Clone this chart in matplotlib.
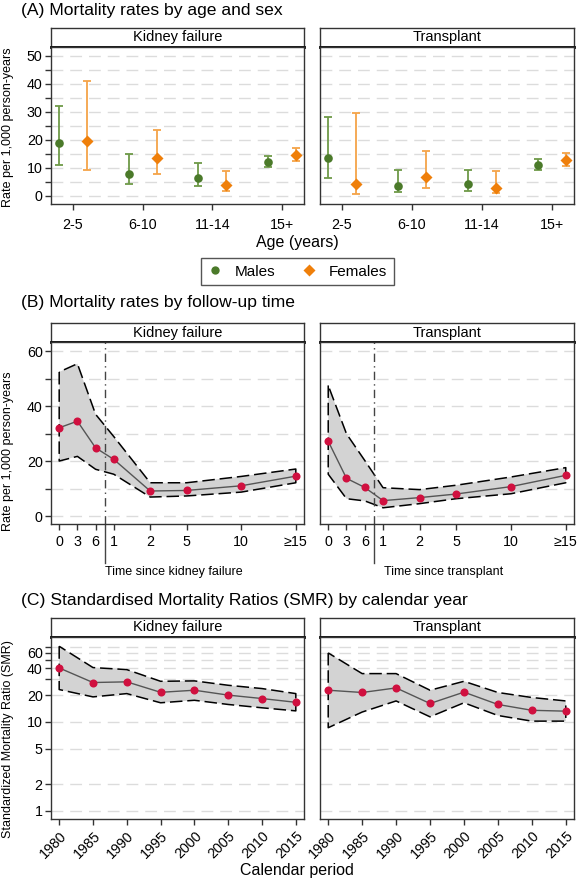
import matplotlib.pyplot as plt
import numpy as np
from matplotlib.lines import Line2D
from matplotlib.ticker import FixedLocator, NullFormatter, FixedFormatter

plt.rcParams['font.family'] = ['Liberation Sans', 'DejaVu Sans']
plt.rcParams['lines.scale_dashes'] = False

# ---- data ----
age_groups = ['2-5', '6-10', '11-14', '15+']

kf_male = [18.8, 7.9, 6.5, 12.0]
kf_male_lo = [11.1, 4.4, 3.7, 10.4]
kf_male_hi = [32.3, 15.0, 11.8, 14.2]
kf_female = [19.6, 13.7, 3.8, 14.6]
kf_female_lo = [9.3, 7.9, 1.8, 12.4]
kf_female_hi = [41.2, 23.5, 9.0, 17.3]

tx_male = [13.4, 3.6, 4.3, 11.0]
tx_male_lo = [6.3, 1.3, 1.9, 9.2]
tx_male_hi = [28.3, 9.2, 9.4, 13.1]
tx_female = [4.2, 6.7, 3.0, 12.9]
tx_female_lo = [0.7, 2.9, 1.1, 10.7]
tx_female_hi = [29.8, 16.0, 9.0, 15.5]

fu_labels = ['0', '3', '6', '1', '2', '5', '10', '\u226515']
fu_x = [0, 1, 2, 3, 5, 7, 10, 13]   # category position on the time axis
fu_split = 2.5                       # months | years boundary

kf_rate = [32.1, 34.5, 24.8, 20.6, 9.1, 9.3, 11.0, 14.5]
kf_rate_hi = [52.4, 55.4, 37.0, 28.9, 12.1, 12.1, 14.4, 17.1]
kf_rate_lo = [20.0, 21.7, 17.0, 15.2, 6.9, 7.3, 8.7, 12.1]
tx_rate = [27.2, 13.7, 10.4, 5.6, 6.7, 8.0, 10.7, 14.8]
tx_rate_hi = [47.5, 29.9, 20.2, 10.3, 9.6, 11.2, 14.2, 17.6]
tx_rate_lo = [15.2, 6.3, 5.5, 3.0, 4.5, 6.3, 8.1, 12.1]

years = [1980, 1985, 1990, 1995, 2000, 2005, 2010, 2015]
kf_smr = [40.4, 27.7, 28.2, 21.5, 22.7, 20.0, 18.3, 16.6]
kf_smr_hi = [70.8, 40.8, 38.7, 28.6, 28.9, 25.8, 23.7, 20.8]
kf_smr_lo = [23.1, 19.1, 20.8, 16.4, 17.5, 15.7, 14.4, 13.3]
tx_smr = [22.7, 21.4, 24.1, 16.1, 21.6, 15.7, 13.5, 13.2]
tx_smr_hi = [59.6, 34.9, 34.9, 22.7, 28.6, 21.4, 18.8, 17.2]
tx_smr_lo = [8.6, 12.9, 17.2, 11.4, 16.4, 11.8, 10.2, 10.2]

# ---- layout helpers (pixel boxes) ----
W, H = 578, 885
fig = plt.figure(figsize=(W / 100, H / 100), dpi=100)


def box(x0, y0, x1, y1):
    return [x0 / W, 1 - y1 / H, (x1 - x0) / W, (y1 - y0) / H]


GREEN, GREEN_BAR = '#4b7a2a', '#6e9a48'
ORANGE, ORANGE_BAR = '#ef7f0a', '#f4a449'
RED = '#d0103f'
GRID = '#dcdcdc'
FRAME = '#333333'
cols = [(51, 304), (320, 574)]


def strip(x0, x1, y0, y1, label):
    s = fig.add_axes(box(x0, y0, x1, y1))
    s.set_xticks([])
    s.set_yticks([])
    for sp in s.spines.values():
        sp.set_color(FRAME)
        sp.set_linewidth(1)
    s.spines['bottom'].set_linewidth(2)
    s.spines['bottom'].set_color('black')
    s.text(0.5, 0.5, label, ha='center', va='center', fontsize=10.5,
           transform=s.transAxes)


def style(ax, left):
    ax.set_axisbelow(True)
    for sp in ax.spines.values():
        sp.set_color(FRAME)
        sp.set_linewidth(1)
    ax.tick_params(which='both', direction='out', length=4, width=1,
                   color=FRAME, labelsize=10.3, pad=2)
    ax.grid(axis='y', which='both', color=GRID, linestyle=(0, (8.5, 5)), lw=1)
    if not left:
        ax.tick_params(axis='y', which='both', left=False, labelleft=False)


def title(y, txt):
    fig.text(21 / W, 1 - y / H, txt, ha='left', va='center', fontsize=12.6)


# ---- (A) ----
title(10, '(A) Mortality rates by age and sex')
panels_a = [
    ('Kidney failure', kf_male, kf_male_lo, kf_male_hi, kf_female, kf_female_lo, kf_female_hi),
    ('Transplant', tx_male, tx_male_lo, tx_male_hi, tx_female, tx_female_lo, tx_female_hi),
]
xa = np.arange(len(age_groups))
for i, (name, m, mlo, mhi, f, flo, fhi) in enumerate(panels_a):
    x0, x1 = cols[i]
    strip(x0, x1, 28, 47, name)
    ax = fig.add_axes(box(x0, 47, x1, 204))
    m, mlo, mhi = np.array(m), np.array(mlo), np.array(mhi)
    f, flo, fhi = np.array(f), np.array(flo), np.array(fhi)
    ax.errorbar(xa - 0.2, m, yerr=[m - mlo, mhi - m], fmt='none', ecolor=GREEN_BAR,
                elinewidth=1.3, capsize=2.8, capthick=1.3)
    ax.plot(xa - 0.2, m, 'o', color=GREEN, ms=6.2, mec='none')
    ax.errorbar(xa + 0.2, f, yerr=[f - flo, fhi - f], fmt='none', ecolor=ORANGE_BAR,
                elinewidth=1.3, capsize=2.8, capthick=1.3)
    ax.plot(xa + 0.2, f, 'D', color=ORANGE, ms=6, mec='none')
    ax.set_xlim(-0.31, 3.31)
    ax.set_ylim(-2.86, 53.2)
    ax.set_xticks(xa)
    ax.set_xticklabels(age_groups)
    ax.yaxis.set_major_locator(FixedLocator([0, 10, 20, 30, 40, 50]))
    ax.yaxis.set_minor_locator(FixedLocator([5, 15, 25, 35, 45]))
    style(ax, i == 0)
    ax.tick_params(axis='x', pad=6)

fig.text(8 / W, 1 - 127 / H, 'Rate per 1,000 person-years', rotation=90,
         ha='center', va='center', fontsize=9)
fig.text(297 / W, 1 - 243 / H, 'Age (years)', ha='center', va='center', fontsize=11.5)

handles = [Line2D([], [], marker='o', color=GREEN, ls='none', ms=6, mec='none'),
           Line2D([], [], marker='D', color=ORANGE, ls='none', ms=5.8, mec='none')]
fig.legend(handles, ['Males', 'Females'], loc='center', ncol=2,
           bbox_to_anchor=(297.5 / W, 1 - 271.5 / H), frameon=True, fancybox=False,
           edgecolor='#555555', fontsize=11, handlelength=1.0, handletextpad=0.8,
           columnspacing=1.7, borderpad=0.45, framealpha=1)

# ---- (B) ----
title(303, '(B) Mortality rates by follow-up time')
panels_b = [
    ('Kidney failure', kf_rate, kf_rate_lo, kf_rate_hi, 'Time since kidney failure', 105),
    ('Transplant', tx_rate, tx_rate_lo, tx_rate_hi, 'Time since transplant', 384),
]
for i, (name, r, lo, hi, xlab, xlab_px) in enumerate(panels_b):
    x0, x1 = cols[i]
    strip(x0, x1, 323, 342, name)
    ax = fig.add_axes(box(x0, 342, x1, 524))
    ax.fill_between(fu_x, lo, hi, facecolor='#d3d3d3', edgecolor='black',
                    linestyle=(0, (9, 3.5)), lw=1.1, zorder=1)
    ax.plot(fu_x, r, '-', color='#555555', lw=1, zorder=2)
    ax.plot(fu_x, r, 'o', color=RED, ms=5.8, mec='none', zorder=3)
    ax.axvline(fu_split, color='#444444', lw=1, linestyle=(0, (6, 3, 1, 3)), zorder=2)
    ax.plot([fu_split, fu_split], [0, -0.214], color='#444444', lw=1,
            transform=ax.get_xaxis_transform(), clip_on=False)
    ax.set_xlim(-0.45, 13.45)
    ax.set_ylim(-2.9, 63.3)
    ax.set_xticks(fu_x)
    ax.set_xticklabels(fu_labels)
    ax.yaxis.set_major_locator(FixedLocator([0, 20, 40, 60]))
    ax.yaxis.set_minor_locator(FixedLocator([10, 30, 50]))
    style(ax, i == 0)
    ax.tick_params(axis='x', pad=4)
    fig.text(xlab_px / W, 1 - 572 / H, xlab, ha='left', va='center', fontsize=9)

fig.text(8 / W, 1 - 451 / H, 'Rate per 1,000 person-years', rotation=90,
         ha='center', va='center', fontsize=9)

# ---- (C) ----
title(600, '(C) Standardised Mortality Ratios (SMR) by calendar year')
panels_c = [
    ('Kidney failure', kf_smr, kf_smr_lo, kf_smr_hi),
    ('Transplant', tx_smr, tx_smr_lo, tx_smr_hi),
]
for i, (name, r, lo, hi) in enumerate(panels_c):
    x0, x1 = cols[i]
    strip(x0, x1, 618, 637, name)
    ax = fig.add_axes(box(x0, 637, x1, 819))
    ax.set_yscale('log')
    ax.fill_between(years, lo, hi, facecolor='#d3d3d3', edgecolor='black',
                    linestyle=(0, (9, 3.5)), lw=1.1, zorder=1)
    ax.plot(years, r, '-', color='#555555', lw=1, zorder=2)
    ax.plot(years, r, 'o', color=RED, ms=5.8, mec='none', zorder=3)
    ax.set_xlim(1978.79, 2016.21)
    ax.set_ylim(0.81, 90)
    ax.set_xticks(years)
    ax.set_xticklabels([str(y) for y in years], rotation=45, ha='right',
                       rotation_mode='anchor')
    ax.yaxis.set_major_locator(FixedLocator([1, 2, 5, 10, 20, 40, 60]))
    ax.yaxis.set_major_formatter(FixedFormatter(['1', '2', '5', '10', '20', '40', '60']))
    ax.yaxis.set_minor_locator(FixedLocator([30, 50, 70]))
    ax.yaxis.set_minor_formatter(NullFormatter())
    style(ax, i == 0)
    ax.tick_params(axis='x', pad=3)

fig.text(8 / W, 1 - 739 / H, 'Standardized Mortality Ratio (SMR)', rotation=90,
         ha='center', va='center', fontsize=9)
fig.text(297 / W, 1 - 870 / H, 'Calendar period', ha='center', va='center', fontsize=11.5)

fig.savefig('out.png', dpi=100)
